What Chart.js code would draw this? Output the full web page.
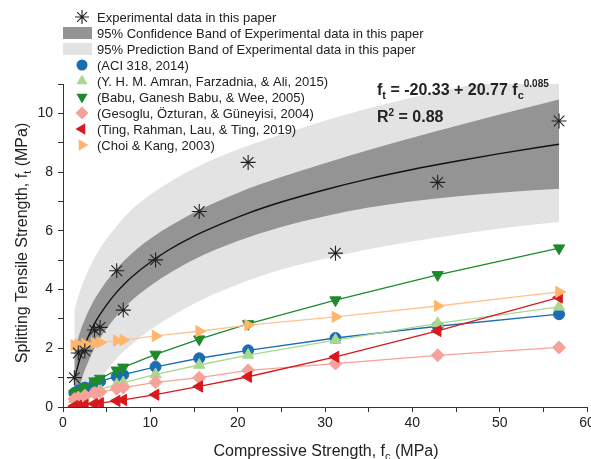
<!DOCTYPE html>
<html>
<head>
<meta charset="utf-8">
<script src="https://cdn.jsdelivr.net/npm/chart.js@4.4.0/dist/chart.umd.min.js"></script>
<style>
  html, body { margin: 0; padding: 0; background: #fff; overflow: hidden; width: 591px; height: 459px; }
  #caja { width: 600px; height: 459px; }
</style>
</head>
<body>
<div id="caja"><canvas id="grafico" width="600" height="459"></canvas></div>
<script>
// datos
const fcExp = [1.3, 1.75, 2.5, 3.6, 4.25, 6.15, 6.9, 10.6, 15.6, 21.2, 31.2, 42.9, 56.8];
const ftExp = [1.0, 1.84, 1.91, 2.62, 2.71, 4.64, 3.30, 5.01, 6.66, 8.33, 5.24, 7.65, 9.74];

const ftACI = [0.48, 0.56, 0.66, 0.80, 0.87, 1.04, 1.10, 1.37, 1.66, 1.93, 2.35, 2.75, 3.16];
const ftAmran = [0.27, 0.33, 0.42, 0.54, 0.60, 0.77, 0.83, 1.11, 1.43, 1.77, 2.28, 2.85, 3.41];
const ftBabu = [0.45, 0.54, 0.69, 0.88, 0.97, 1.25, 1.35, 1.79, 2.31, 2.83, 3.64, 4.50, 5.41];
const ftGesoglu = [0.27, 0.32, 0.39, 0.47, 0.51, 0.62, 0.66, 0.84, 1.00, 1.25, 1.48, 1.76, 2.03];
const ftTing = [0.03, 0.04, 0.07, 0.11, 0.13, 0.21, 0.24, 0.42, 0.70, 1.03, 1.71, 2.59, 3.73];
const ftChoi = [2.10, 2.12, 2.15, 2.18, 2.20, 2.26, 2.28, 2.42, 2.58, 2.79, 3.07, 3.44, 3.92];

// curva de ajuste
const fcAjuste = [1.3, 1.6, 2, 2.5, 3, 3.5, 4, 5, 6, 7, 8, 10, 12, 15, 18, 21, 25, 30, 35, 40, 45, 50, 56.8];
const ftAjuste = [0.91, 1.29, 1.70, 2.12, 2.47, 2.78, 3.04, 3.48, 3.86, 4.18, 4.46, 4.93, 5.33, 5.82, 6.22, 6.58, 6.98, 7.40, 7.77, 8.09, 8.37, 8.63, 8.95];

// bandas 95%
const fcBanda = [1.3, 2, 3, 4, 6, 8, 10, 15, 20, 25, 30, 35, 40, 45, 50, 56.8];
const confSup = [1.91, 2.60, 3.32, 3.86, 4.66, 5.26, 5.73, 6.62, 7.29, 7.83, 8.30, 8.75, 9.17, 9.57, 9.96, 10.47];
const confInf = [-0.09, 0.80, 1.62, 2.22, 3.06, 3.66, 4.13, 5.02, 5.65, 6.13, 6.50, 6.79, 7.01, 7.17, 7.30, 7.43];
const predSup = [3.31, 4.00, 4.72, 5.29, 6.11, 6.76, 7.23, 8.12, 8.77, 9.28, 9.75, 10.17, 10.54, 10.87, 11.18, 11.60];
const predInf = [-1.49, -0.60, 0.22, 0.79, 1.61, 2.16, 2.63, 3.52, 4.17, 4.68, 5.05, 5.37, 5.64, 5.87, 6.08, 6.30];

const ticksX = [0, 10, 20, 30, 40, 50, 60];
const ticksY = [0, 2, 4, 6, 8, 10];

const GRIS_OSCURO = 'rgb(148,148,148)';
const GRIS_CLARO = 'rgb(227,227,227)';
const FUENTE = '"Liberation Sans", Arial, sans-serif';

const pares = (xs, ys) => xs.map((x, i) => ({ x: x, y: ys[i] }));

const series = [
  { label: '(ACI 318, 2014)', datos: ftACI, color: '#1c6cb3', linea: '#1c6cb3', estilo: 'circle', rot: 0, r: 5.5 },
  { label: '(Y. H. M. Amran, Farzadnia, & Ali, 2015)', datos: ftAmran, color: '#a9d88e', linea: '#a9d88e', estilo: 'triangle', rot: 0, r: 6.5 },
  { label: '(Babu, Ganesh Babu, & Wee, 2005)', datos: ftBabu, color: '#1d8a2b', linea: '#1d8a2b', estilo: 'triangle', rot: 180, r: 6.5 },
  { label: '(Gesoglu, Özturan, & Güneyisi, 2004)', datos: ftGesoglu, color: '#f6a29b', linea: '#f6a29b', estilo: 'rectRot', rot: 0, r: 6.5 },
  { label: '(Ting, Rahman, Lau, & Ting, 2019)', datos: ftTing, color: '#d8191e', linea: '#d8191e', estilo: 'triangle', rot: 270, r: 6.5 },
  { label: '(Choi & Kang, 2003)', datos: ftChoi, color: '#ffb66c', linea: '#ffc48e', estilo: 'triangle', rot: 90, r: 6.5 }
];

const datasets = [
  { label: 'predSup', data: pares(fcBanda, predSup), showLine: true, pointRadius: 0, borderWidth: 0,
    backgroundColor: GRIS_CLARO, fill: 1, cubicInterpolationMode: 'monotone', order: 10, clip: { left: 0, top: 4, right: 0, bottom: 0 } },
  { label: 'predInf', data: pares(fcBanda, predInf), showLine: true, pointRadius: 0, borderWidth: 0,
    fill: false, cubicInterpolationMode: 'monotone', order: 10 },
  { label: 'confSup', data: pares(fcBanda, confSup), showLine: true, pointRadius: 0, borderWidth: 0,
    backgroundColor: GRIS_OSCURO, fill: 3, cubicInterpolationMode: 'monotone', order: 9 },
  { label: 'confInf', data: pares(fcBanda, confInf), showLine: true, pointRadius: 0, borderWidth: 0,
    fill: false, cubicInterpolationMode: 'monotone', order: 9 },
  { label: 'ajuste', data: pares(fcAjuste, ftAjuste), showLine: true, pointRadius: 0, borderWidth: 1.4,
    borderColor: '#111', fill: false, cubicInterpolationMode: 'monotone', order: 8 }
];

series.forEach((s, i) => {
  datasets.push({
    label: s.label, data: pares(fcExp, s.datos), showLine: true, fill: false,
    borderColor: s.linea, borderWidth: 1.3,
    pointStyle: s.estilo, rotation: s.rot, pointRadius: s.r,
    pointBackgroundColor: s.color, pointBorderColor: s.color, pointBorderWidth: 1,
    order: 6 - i * 0.1
  });
});

datasets.push({
  label: 'Experimental data in this paper', data: pares(fcExp, ftExp), showLine: false,
  pointStyle: 'star', pointRadius: 7.5, pointBorderColor: '#222', pointBackgroundColor: '#222',
  pointBorderWidth: 1.1, order: 1
});

// marcador para la leyenda
const marcador = (ctx, estilo, rot, x, y, r, color) => {
  ctx.save();
  ctx.translate(x, y);
  ctx.rotate(rot * Math.PI / 180);
  ctx.fillStyle = color;
  ctx.strokeStyle = color;
  ctx.lineWidth = 1.1;
  ctx.beginPath();
  if (estilo === 'circle') {
    ctx.arc(0, 0, r, 0, Math.PI * 2);
    ctx.fill();
  } else if (estilo === 'triangle') {
    for (let k = 0; k < 3; k++) {
      const a = k * 2 * Math.PI / 3;
      const px = Math.sin(a) * r, py = -Math.cos(a) * r;
      if (k === 0) ctx.moveTo(px, py); else ctx.lineTo(px, py);
    }
    ctx.closePath();
    ctx.fill();
  } else if (estilo === 'rectRot') {
    ctx.moveTo(0, -r); ctx.lineTo(r, 0); ctx.lineTo(0, r); ctx.lineTo(-r, 0);
    ctx.closePath();
    ctx.fill();
  } else if (estilo === 'star') {
    for (let k = 0; k < 4; k++) {
      const a = k * Math.PI / 4;
      ctx.moveTo(Math.cos(a) * r, Math.sin(a) * r);
      ctx.lineTo(-Math.cos(a) * r, -Math.sin(a) * r);
    }
    ctx.stroke();
  }
  ctx.restore();
};

const escribirPartes = (ctx, partes, x, y, centrado) => {
  let ancho = 0;
  partes.forEach(p => { ctx.font = p.f; ancho += ctx.measureText(p.t).width; });
  let cx = centrado ? x - ancho / 2 : x;
  partes.forEach(p => {
    ctx.font = p.f;
    ctx.fillText(p.t, cx, y + (p.dy || 0));
    cx += ctx.measureText(p.t).width;
  });
};

const extras = {
  id: 'extras',
  afterDraw(chart) {
    const ctx = chart.ctx;
    ctx.save();
    ctx.textBaseline = 'alphabetic';
    ctx.textAlign = 'left';
    ctx.fillStyle = '#222';

    // leyenda
    const filas = [17, 33, 49, 65, 81, 97, 113, 129, 145];
    const textos = ['Experimental data in this paper',
      '95% Confidence Band of Experimental data in this paper',
      '95% Prediction Band of Experimental data in this paper'].concat(series.map(s => s.label));
    marcador(ctx, 'star', 0, 82, filas[0], 7, '#222');
    ctx.fillStyle = GRIS_OSCURO;
    ctx.fillRect(63, filas[1] - 6, 29, 12);
    ctx.fillStyle = GRIS_CLARO;
    ctx.fillRect(63, filas[2] - 6, 29, 12);
    series.forEach((s, i) => marcador(ctx, s.estilo, s.rot, 82, filas[i + 3], s.r, s.color));
    ctx.fillStyle = '#222';
    ctx.font = '13px ' + FUENTE;
    textos.forEach((t, i) => ctx.fillText(t, 97, filas[i] + 5));

    // ecuacion
    const bold = 'bold 16px ' + FUENTE;
    const sub = 'bold 11px ' + FUENTE;
    const sup = 'bold 10px ' + FUENTE;
    escribirPartes(ctx, [
      { t: 'f', f: bold }, { t: 't', f: sub, dy: 4 },
      { t: ' = -20.33 + 20.77 f', f: bold }, { t: 'c', f: sub, dy: 4 },
      { t: '0.085', f: sup, dy: -8 }
    ], 377, 95, false);
    escribirPartes(ctx, [
      { t: 'R', f: bold }, { t: '2', f: sup, dy: -6 }, { t: ' = 0.88', f: bold }
    ], 377, 122, false);

    // titulos de ejes
    const normal = '16px ' + FUENTE;
    const subN = '11px ' + FUENTE;
    escribirPartes(ctx, [
      { t: 'Compressive Strength, f', f: normal }, { t: 'c', f: subN, dy: 4 }, { t: ' (MPa)', f: normal }
    ], 326, 456, true);
    ctx.translate(21, 243);
    ctx.rotate(-Math.PI / 2);
    escribirPartes(ctx, [
      { t: 'Splitting Tensile Strength, f', f: normal }, { t: 't', f: subN, dy: 4 }, { t: ' (MPa)', f: normal }
    ], 0, 6, true);
    ctx.restore();
  }
};

new Chart(document.getElementById('grafico'), {
  type: 'scatter',
  data: { datasets: datasets },
  options: {
    responsive: false,
    animation: false,
    devicePixelRatio: 1,
    layout: { padding: { left: 33, right: 13, top: 84, bottom: 22 } },
    plugins: { legend: { display: false }, tooltip: { enabled: false } },
    scales: {
      x: {
        type: 'linear', min: 0, max: 60,
        afterFit: (s) => { s.height = 30; },
        ticks: {
          stepSize: 5, autoSkip: false, maxRotation: 0, padding: 3, color: '#222',
          font: { size: 14, family: FUENTE },
          callback: (v) => ticksX.includes(v) ? String(v) : ''
        },
        grid: { drawOnChartArea: false, drawTicks: true, tickLength: 5, color: '#333' },
        border: { display: true, color: '#333', width: 1 }
      },
      y: {
        type: 'linear', min: 0, max: 11,
        afterFit: (s) => { s.width = 30; },
        ticks: {
          stepSize: 1, autoSkip: false, padding: 5, color: '#222',
          font: { size: 14, family: FUENTE },
          callback: (v) => ticksY.includes(v) ? String(v) : ''
        },
        grid: { drawOnChartArea: false, drawTicks: true, tickLength: 5, color: '#333' },
        border: { display: true, color: '#333', width: 1 }
      }
    }
  },
  plugins: [extras]
});
</script>
</body>
</html>
